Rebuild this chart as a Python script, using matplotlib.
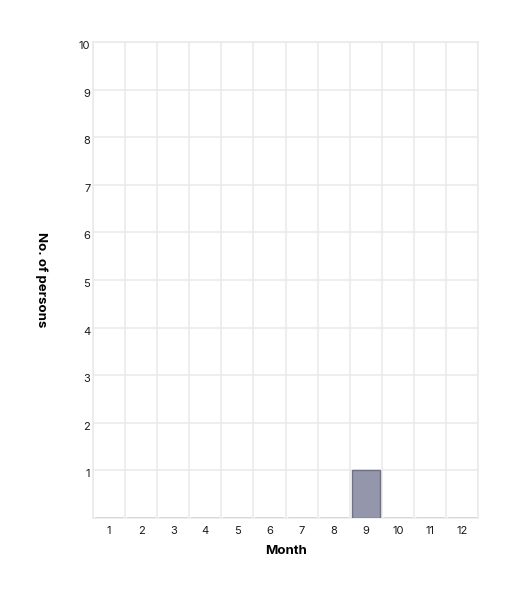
import matplotlib.pyplot as plt
import matplotlib.transforms as mtransforms
import numpy as np

plt.rcParams['font.family'] = ['Inter', 'DejaVu Sans']

# data
months = [1, 2, 3, 4, 5, 6, 7, 8, 9, 10, 11, 12]
persons = [0, 0, 0, 0, 0, 0, 0, 0, 1, 0, 0, 0]
y_ticks = [1, 2, 3, 4, 5, 6, 7, 8, 9, 10]

grid_c = '#e9e9e9'

fig = plt.figure(figsize=(5.18, 5.94), dpi=100)
ax = fig.add_axes([93 / 518, 1 - 518 / 594, 385 / 518, 476 / 594])

ax.bar(months, persons, width=0.875, color='#9496ab', edgecolor='#6f7189', linewidth=1.0, zorder=3)

ax.set_xlim(0.5, 12.5)
ax.set_ylim(0, 10)

ax.set_xticks(months)
ax.set_xticks(np.arange(0.5, 13, 1), minor=True)
ax.set_yticks(y_ticks)

ax.grid(True, which='minor', axis='x', color=grid_c, lw=1.1, zorder=0)
ax.grid(True, which='major', axis='y', color=grid_c, lw=1.1, zorder=0)
ax.grid(False, which='major', axis='x')

ax.tick_params(axis='both', which='both', length=0, labelsize=8, colors='#1a1a1a')
ax.tick_params(axis='x', pad=6)
ax.tick_params(axis='y', pad=2)

# shift y labels slightly below their gridlines
off = mtransforms.ScaledTranslation(0, -3 / 100, fig.dpi_scale_trans)
for lab in ax.get_yticklabels():
    lab.set_transform(lab.get_transform() + off)

for s in ax.spines.values():
    s.set_color(grid_c)
    s.set_linewidth(1.1)

ax.set_xlabel('Month', fontsize=9.5, fontweight='bold', labelpad=6)
ax.set_ylabel('No. of persons', fontsize=9.5, fontweight='bold', rotation=-90, va='center')
ax.yaxis.set_label_coords(-42 / 385 - 0.025, 0.5)

fig.savefig('out.png', dpi=100, facecolor='white')
